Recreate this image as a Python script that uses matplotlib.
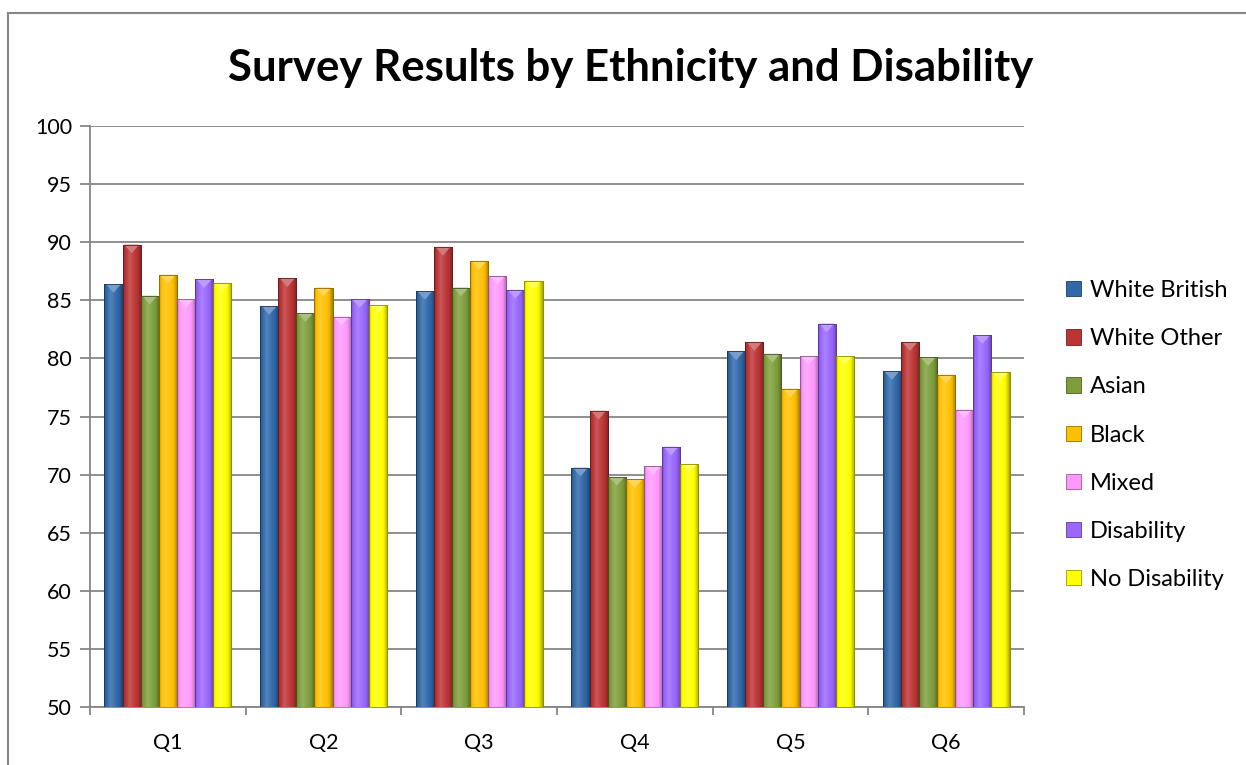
import matplotlib
matplotlib.use("Agg")
import matplotlib.pyplot as plt
import numpy as np
from matplotlib.colors import to_rgb
from matplotlib.patches import Patch, Polygon
from matplotlib.lines import Line2D

categories = ["Q1", "Q2", "Q3", "Q4", "Q5", "Q6"]
series_names = ["White British", "White Other", "Asian", "Black", "Mixed",
                "Disability", "No Disability"]
white_british = [86.4, 84.5, 85.8, 70.6, 80.6, 78.9]
white_other = [89.8, 86.9, 89.6, 75.5, 81.4, 81.4]
asian = [85.4, 83.9, 86.1, 69.8, 80.4, 80.1]
black = [87.2, 86.1, 88.4, 69.6, 77.4, 78.6]
mixed = [85.1, 83.6, 87.1, 70.7, 80.2, 75.6]
disability = [86.8, 85.1, 85.9, 72.4, 83.0, 82.0]
no_disability = [86.5, 84.6, 86.7, 70.9, 80.2, 78.8]
all_series = [white_british, white_other, asian, black, mixed, disability, no_disability]
colors = ["#3068AA", "#BC3434", "#7E9E3C", "#FFC000", "#FF99FF", "#9966FF", "#FFFF00"]

plt.rcParams['font.family'] = ['Lato', 'DejaVu Sans']

fig = plt.figure(figsize=(12.46, 7.65), dpi=100)
ax = fig.add_axes([90/1246, 58/765, 934/1246, 581/765])

n = len(series_names)
x = np.arange(len(categories))
group_w = 0.814
bw = group_w / n

def shade(c, f):
    r = np.array(to_rgb(c))
    if f >= 0:
        return r + (1 - r) * f
    return r * (1 + f)

ax.set_xlim(-0.5, len(categories) - 0.5)
ax.set_ylim(50, 100)

for i, (vals, col) in enumerate(zip(all_series, colors)):
    pos = x - group_w / 2 + bw * (i + 0.5)
    bars = ax.bar(pos, np.array(vals) - 50, bottom=50, width=bw, color=col,
                  edgecolor=shade(col, -0.45), linewidth=0.6, zorder=3)
    t = np.linspace(0, 1, 64)
    prof = np.interp(t, [0, 0.08, 0.35, 0.8, 1.0], [-0.35, -0.05, 0.18, -0.05, -0.35])
    grad = np.array([shade(col, p) for p in prof])
    img = np.clip(grad[np.newaxis, :, :], 0, 1)
    for b in bars:
        x0, y0 = b.get_x(), b.get_y()
        w, h = b.get_width(), b.get_height()
        im = ax.imshow(img, extent=[x0, x0 + w, y0, y0 + h], aspect='auto',
                       zorder=3.5, interpolation='bilinear')
        im.set_clip_path(b)
        cap_h = 0.75
        tri = Polygon([[x0 + w * 0.08, y0 + h], [x0 + w * 0.92, y0 + h],
                       [x0 + w / 2, y0 + h - cap_h]], closed=True,
                      facecolor=shade(col, 0.35), edgecolor='none', zorder=3.7)
        ax.add_patch(tri)
        ax.add_patch(Polygon([[x0, y0], [x0 + w, y0], [x0 + w, y0 + h], [x0, y0 + h]],
                             closed=True, fill=False, edgecolor=shade(col, -0.45),
                             linewidth=0.6, zorder=3.8))

ax.set_xlim(-0.5, len(categories) - 0.5)
ax.set_ylim(50, 100)
ax.set_yticks(np.arange(50, 101, 5))
ax.yaxis.grid(True, color="#868686", linewidth=1.3, zorder=0)
ax.set_axisbelow(True)
ax.set_xticks(x)
ax.set_xticklabels(categories)
ax.set_xticks(np.arange(-0.5, len(categories)), minor=True)
ax.tick_params(axis='x', which='major', length=0, pad=19, labelsize=15.5)
ax.tick_params(axis='x', which='minor', length=6, color="#868686", width=1.3, direction='out')
ax.tick_params(axis='y', length=7, color="#868686", width=1.3, direction='out', labelsize=15.5, pad=6)
for s in ['top', 'right']:
    ax.spines[s].set_visible(False)
for s in ['left', 'bottom']:
    ax.spines[s].set_color("#868686")
    ax.spines[s].set_linewidth(1.3)

fig.text(0.506, 1 - 68/765, "Survey Results by Ethnicity and Disability",
         ha='center', va='center', fontsize=31.5, fontweight='bold')

handles = [Patch(facecolor=c, edgecolor=shade(c, -0.4), linewidth=0.6) for c in colors]
leg = fig.legend(handles, series_names, loc='center left',
                 bbox_to_anchor=(1066/1246, 1 - 435/765), frameon=False,
                 fontsize=17, handlelength=0.62, handleheight=0.62,
                 handletextpad=0.4, labelspacing=1.15, borderpad=0, borderaxespad=0)

fig.add_artist(Line2D([8/1246, 1246/1246], [1 - 13/765, 1 - 13/765],
                      transform=fig.transFigure, color="#868686", linewidth=1.5))
fig.add_artist(Line2D([8/1246, 8/1246], [0, 1 - 13/765],
                      transform=fig.transFigure, color="#868686", linewidth=1.5))

fig.savefig("out.png", dpi=100)
